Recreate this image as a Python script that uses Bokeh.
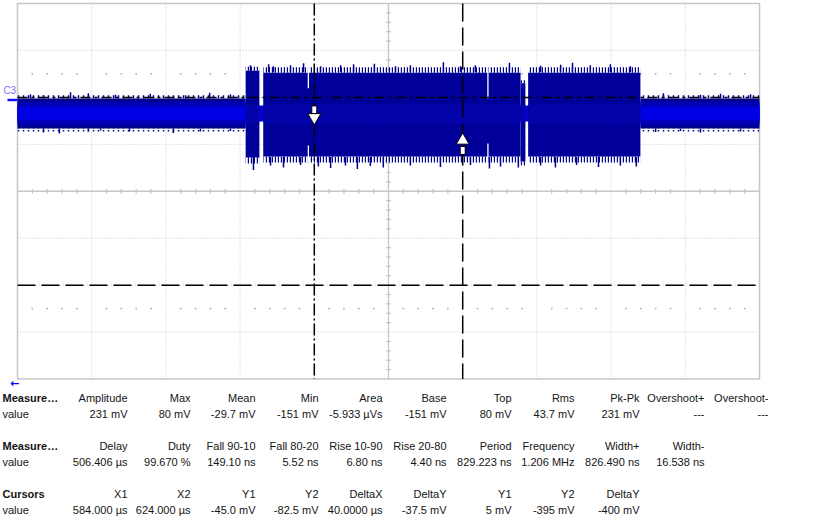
import numpy as np
from bokeh.plotting import figure
from bokeh.layouts import column
from bokeh.models import Range1d, ColumnDataSource
from bokeh.core.properties import value
from bokeh.embed import file_html
from bokeh.resources import INLINE

# ---------------- scope settings (from cursor readouts) ----------------
T_LEFT = 504.0        # us at left edge of graticule
US_PER_DIV = 20.0
N_XDIV = 10
V_TOP = -26.25        # mV at top edge of graticule
MV_PER_DIV = 9.375
N_YDIV = 8

cursor_x = [584.0, 624.0]     # X1, X2 (us)
cursor_y = [-45.0, -82.5]     # Y1, Y2 (mV)

# ---------------- waveform envelope ----------------
# idle segments (between packets)
idle_start = [504.0, 671.9]
idle_end = [565.5, 704.0]
idle_hi, idle_lo = -45.2, -51.2
idle_mid_hi, idle_mid_lo = -45.9, -50.5
core_hi, core_lo = -46.9, -49.5

# burst segments
burst_start = [565.5, 570.3, 639.6, 641.7]
burst_end = [569.2, 639.6, 640.9, 671.9]
burst_hi = [-39.7, -40.1, -42.2, -40.1]
burst_lo = [-57.0, -56.8, -57.8, -56.8]
burst_tip_hi = [-38.9, -39.0, -41.6, -39.0]
burst_tip_lo = [-58.2, -58.0, -58.6, -58.0]

# prominent spikes on the idle trace
idle_top_spike_t = [507.5, 511.0, 518.3, 523.1, 530.4, 539.8, 549.3, 555.8, 561.4,
                    678.1, 688.1, 693.5, 701.6]
idle_top_spike_v = [-44.4, -44.6, -44.0, -44.2, -44.5, -44.3, -44.6, -44.1, -44.4,
                    -44.2, -44.5, -44.3, -44.4]
idle_bot_spike_t = [511.0, 515.3, 523.1, 526.4, 534.2, 546.0, 553.3, 561.4,
                    676.0, 682.7, 688.1, 698.9]
idle_bot_spike_v = [-52.0, -52.2, -51.8, -51.6, -51.8, -52.1, -51.8, -51.7,
                    -51.9, -51.7, -52.0, -51.8]

# prominent spikes on the bursts
burst_top_spike_t = [566.8, 571.7, 573.0, 577.6, 581.1, 585.7, 591.1, 594.6, 600.2, 605.9,
                     609.9, 618.8, 623.4, 627.4, 636.6, 645.0, 650.4, 653.6, 658.4, 663.8, 669.2]
burst_top_spike_v = [-38.6, -38.4, -38.8, -38.6, -38.2, -38.8, -38.6, -38.4, -38.3, -38.8,
                     -38.6, -38.0, -38.8, -38.6, -38.1, -38.7, -38.5, -38.1, -38.6, -38.4, -38.8]
burst_bot_spike_t = [567.6, 572.2, 575.7, 580.3, 585.1, 588.4, 592.4, 595.6, 599.1, 602.6, 609.9,
                     618.0, 626.1, 631.2, 634.2, 639.0, 645.0, 649.0, 654.7, 660.6, 666.5, 670.8]
burst_bot_spike_v = [-59.5, -58.6, -59.0, -58.5, -58.8, -59.1, -58.6, -59.3, -58.7, -59.0, -58.6,
                     -58.9, -58.5, -59.2, -58.8, -59.0, -58.6, -59.0, -58.5, -58.9, -58.6, -58.8]

# thin dropouts inside the burst
gap_t = [582.4, 630.8]
gap_upper_lo = [-43.2, -45.2]
gap_lower_hi = [-54.6, -54.2]

# cursor markers on the trace
marker_down_t, marker_down_shaft_v, marker_down_head_v = 584.0, -47.5, -49.0
marker_up_t, marker_up_head_v, marker_up_shaft_v = 624.0, -53.6, -55.6

# ---------------- measurement table ----------------
row1_label = "Measure\u2026"
row1_head = ["Amplitude", "Max", "Mean", "Min", "Area", "Base", "Top", "Rms", "Pk-Pk",
             "Overshoot+", "Overshoot-"]
row1_vals = ["231 mV", "80 mV", "-29.7 mV", "-151 mV", "-5.933 \u00b5Vs", "-151 mV", "80 mV",
             "43.7 mV", "231 mV", "---", "---"]
row2_label = "Measure\u2026"
row2_head = ["Delay", "Duty", "Fall 90-10", "Fall 80-20", "Rise 10-90", "Rise 20-80", "Period",
             "Frequency", "Width+", "Width-"]
row2_vals = ["506.406 \u00b5s", "99.670 %", "149.10 ns", "5.52 ns", "6.80 ns", "4.40 ns",
             "829.223 ns", "1.206 MHz", "826.490 ns", "16.538 ns"]
row3_label = "Cursors"
row3_head = ["X1", "X2", "Y1", "Y2", "DeltaX", "DeltaY", "Y1", "Y2", "DeltaY"]
row3_vals = ["584.000 \u00b5s", "624.000 \u00b5s", "-45.0 mV", "-82.5 mV", "40.0000 \u00b5s",
             "-37.5 mV", "5 mV", "-395 mV", "-400 mV"]

# ---------------- layout constants ----------------
W = 820
H_SCOPE = 390
H_TABLE = 138
PX_PER_XDIV = 74.2
GRAT_LEFT_PX = 17.0
GRAT_TOP_PX = 3.0
GRAT_BOTTOM_PX = 378.5

x_start = T_LEFT - GRAT_LEFT_PX / PX_PER_XDIV * US_PER_DIV
x_end = x_start + W / PX_PER_XDIV * US_PER_DIV
px_per_ydiv = (GRAT_BOTTOM_PX - GRAT_TOP_PX) / N_YDIV
y_top = V_TOP + GRAT_TOP_PX / px_per_ydiv * MV_PER_DIV
y_bot = y_top - H_SCOPE / px_per_ydiv * MV_PER_DIV

T_RIGHT = T_LEFT + N_XDIV * US_PER_DIV
V_BOT = V_TOP - N_YDIV * MV_PER_DIV
T_MID = (T_LEFT + T_RIGHT) / 2
V_MID = (V_TOP + V_BOT) / 2

p = figure(width=W, height=H_SCOPE, output_backend="svg", toolbar_location=None,
           x_range=Range1d(x_start, x_end), y_range=Range1d(y_bot, y_top),
           x_axis_type=None, y_axis_type=None, min_border=0,
           background_fill_color="white", border_fill_color="white",
           outline_line_color=None)
p.grid.visible = False

GRID_C = "#c6c6c6"
# inner dotted grid
vx = [T_LEFT + i * US_PER_DIV for i in range(1, N_XDIV) if i != N_XDIV // 2]
p.segment(x0=vx, x1=vx, y0=[V_TOP] * len(vx), y1=[V_BOT] * len(vx),
          line_color=GRID_C, line_width=1, line_dash="1 2")
hy = [V_TOP - j * MV_PER_DIV for j in range(1, N_YDIV) if j != N_YDIV // 2]
p.segment(x0=[T_LEFT] * len(hy), x1=[T_RIGHT] * len(hy), y0=hy, y1=hy,
          line_color=GRID_C, line_width=1, line_dash="1 2")
# centre cross
p.segment(x0=[T_MID, T_LEFT], x1=[T_MID, T_RIGHT], y0=[V_TOP, V_MID], y1=[V_BOT, V_MID],
          line_color=GRID_C, line_width=1.3)
# minor ticks
mx = [T_LEFT + k * US_PER_DIV / 5 for k in range(1, N_XDIV * 5) if k % 5 != 0]
p.scatter(x=mx, y=[V_MID] * len(mx), marker="dash", angle=np.pi / 2, size=5,
          line_color=GRID_C, line_width=1.2)
my = [V_TOP - k * MV_PER_DIV / 5 for k in range(1, N_YDIV * 5) if k % 5 != 0]
p.scatter(x=[T_MID] * len(my), y=my, marker="dash", size=5, line_color=GRID_C, line_width=1.2)
# dotted rows at +/- 2.5 div
for off in (2.5, -2.5):
    p.scatter(x=mx, y=[V_MID + off * MV_PER_DIV] * len(mx), marker="square", size=1.6,
              fill_color="#b4b4b4", line_color=None)
# border
p.quad(left=[T_LEFT], right=[T_RIGHT], top=[V_TOP], bottom=[V_BOT], fill_color=None,
       line_color=GRID_C, line_width=1.5)

# ---------------- waveform ----------------
NAVY = "#00008e"
# continuous core (visible in gaps)
p.quad(left=[T_LEFT], right=[T_RIGHT], top=[core_hi + 0.3], bottom=[core_lo - 0.3],
       fill_color="#0000d8", line_color=None)
# idle band layers
n = len(idle_start)
p.quad(left=idle_start, right=idle_end, top=[idle_hi] * n, bottom=[idle_lo] * n,
       fill_color=NAVY, line_color=None)
p.quad(left=idle_start, right=idle_end, top=[idle_mid_hi] * n, bottom=[idle_mid_lo] * n,
       fill_color="#0000bc", line_color=None)
p.quad(left=idle_start, right=idle_end, top=[idle_mid_hi] * n, bottom=[idle_mid_lo] * n,
       fill_color=None, line_color=None, hatch_pattern="|", hatch_color="#0000a6",
       hatch_scale=5, hatch_weight=1)
p.quad(left=idle_start, right=idle_end, top=[core_hi] * n, bottom=[core_lo] * n,
       fill_color="#0000e4", line_color=None)
# comb texture on idle edges
p.quad(left=idle_start, right=idle_end, top=[idle_hi + 0.6] * n, bottom=[idle_hi] * n,
       fill_color=None, line_color=None, hatch_pattern=":", hatch_color=NAVY,
       hatch_scale=5, hatch_weight=1.5)
p.quad(left=idle_start, right=idle_end, top=[idle_lo] * n, bottom=[idle_lo - 0.6] * n,
       fill_color=None, line_color=None, hatch_pattern=":", hatch_color=NAVY,
       hatch_scale=5, hatch_weight=1.5)

# bursts
nb = len(burst_start)
p.quad(left=burst_start, right=burst_end, top=burst_hi, bottom=burst_lo,
       fill_color="#000096", line_color=None)
p.quad(left=burst_start, right=burst_end, top=burst_hi, bottom=burst_lo,
       fill_color=None, line_color=None, hatch_pattern="|", hatch_color="#0000a4",
       hatch_scale=5, hatch_weight=1)
p.quad(left=burst_start, right=burst_end, top=[core_hi + 0.5] * nb, bottom=[core_lo - 0.8] * nb,
       fill_color="#0a0ad0", fill_alpha=0.3, line_color=None)
p.quad(left=burst_start, right=burst_end, top=burst_tip_hi, bottom=burst_hi,
       fill_color=None, line_color=None, hatch_pattern="|", hatch_color=NAVY,
       hatch_scale=3, hatch_weight=1.4)
p.quad(left=burst_start, right=burst_end, top=burst_lo, bottom=burst_tip_lo,
       fill_color=None, line_color=None, hatch_pattern="|", hatch_color=NAVY,
       hatch_scale=3, hatch_weight=1.4)

# dropouts
p.segment(x0=gap_t, x1=gap_t, y0=[burst_tip_hi[1]] * len(gap_t), y1=gap_upper_lo,
          line_color="white", line_width=1.3)
p.segment(x0=gap_t, x1=gap_t, y0=gap_lower_hi, y1=[burst_tip_lo[1]] * len(gap_t),
          line_color="white", line_width=1.3)

# spikes
p.segment(x0=idle_top_spike_t, x1=idle_top_spike_t, y0=[idle_hi] * len(idle_top_spike_t),
          y1=idle_top_spike_v, line_color=NAVY, line_width=1.5)
p.segment(x0=idle_bot_spike_t, x1=idle_bot_spike_t, y0=[idle_lo] * len(idle_bot_spike_t),
          y1=idle_bot_spike_v, line_color=NAVY, line_width=1.5)
p.segment(x0=burst_top_spike_t, x1=burst_top_spike_t, y0=[-40.0] * len(burst_top_spike_t),
          y1=burst_top_spike_v, line_color=NAVY, line_width=1.5)
p.segment(x0=burst_bot_spike_t, x1=burst_bot_spike_t, y0=[-56.9] * len(burst_bot_spike_t),
          y1=burst_bot_spike_v, line_color=NAVY, line_width=1.5)

# ---------------- cursors ----------------
p.segment(x0=[cursor_x[0]], x1=[cursor_x[0]], y0=[V_TOP], y1=[V_BOT], line_color="black",
          line_width=1.5, line_dash="12 3 2 3")
p.segment(x0=[cursor_x[1]], x1=[cursor_x[1]], y0=[V_TOP], y1=[V_BOT], line_color="black",
          line_width=1.5, line_dash="18 6")
p.segment(x0=[T_LEFT], x1=[T_RIGHT], y0=[cursor_y[0]], y1=[cursor_y[0]], line_color="black",
          line_width=1.5, line_dash="10 4 3 4")
p.segment(x0=[T_LEFT], x1=[T_RIGHT], y0=[cursor_y[1]], y1=[cursor_y[1]], line_color="black",
          line_width=1.5, line_dash="18 6")

# cursor markers (arrows)
p.rect(x=[marker_down_t, marker_up_t], y=[marker_down_shaft_v, marker_up_shaft_v],
       width=5, height=8, width_units="screen", height_units="screen",
       fill_color="white", line_color="black", line_width=1)
p.scatter(x=[marker_down_t], y=[marker_down_head_v], marker="inverted_triangle", size=13,
          fill_color="white", line_color="black", line_width=1)
p.scatter(x=[marker_up_t], y=[marker_up_head_v], marker="triangle", size=13,
          fill_color="white", line_color="black", line_width=1)

# channel label & marker
p.text(x=[500.2], y=[-43.7], text=["C3"], text_font=value("Liberation Sans"),
       text_font_size="10px", text_color="#8c6cf2", text_baseline="middle")
p.segment(x0=[501.3], x1=[T_LEFT], y0=[-45.5], y1=[-45.5], line_color="#1010ff",
          line_width=2.5)
p.text(x=[502.0], y=[-102.1], text=["\u2190"], text_font=value("DejaVu Sans"),
       text_font_size="11px", text_color="#0000ff", text_baseline="middle",
       text_font_style="bold")

# ---------------- table ----------------
t = figure(width=W, height=H_TABLE, output_backend="svg", toolbar_location=None,
           x_range=Range1d(0, W), y_range=Range1d(H_TABLE, 0),
           x_axis_type=None, y_axis_type=None, min_border=0,
           background_fill_color="white", border_fill_color="white",
           outline_line_color=None)
t.grid.visible = False

col_right = [127, 190, 255, 318, 382, 446, 511, 574, 639, 704, 768]
row_y = [7.5, 23.5, 55.5, 71.5, 103.5, 119.5]
FONT = value("Liberation Sans")
TXT_C = "#141414"

labels = [row1_label, "value", row2_label, "value", row3_label, "value"]
styles = ["bold", "normal", "bold", "normal", "bold", "normal"]
for lab, st, yy in zip(labels, styles, row_y):
    t.text(x=[2], y=[yy], text=[lab], text_font=FONT, text_font_size="11px",
           text_font_style=st, text_color=TXT_C, text_baseline="middle")

cells = [row1_head, row1_vals, row2_head, row2_vals, row3_head, row3_vals]
for row, yy in zip(cells, row_y):
    src = ColumnDataSource(dict(x=col_right[:len(row)], y=[yy] * len(row), text=row))
    t.text(x="x", y="y", text="text", source=src, text_font=FONT, text_font_size="11px",
           text_color=TXT_C, text_align="right", text_baseline="middle")

layout = column(p, t, spacing=0)
open("out.html", "w").write(file_html(layout, INLINE))
